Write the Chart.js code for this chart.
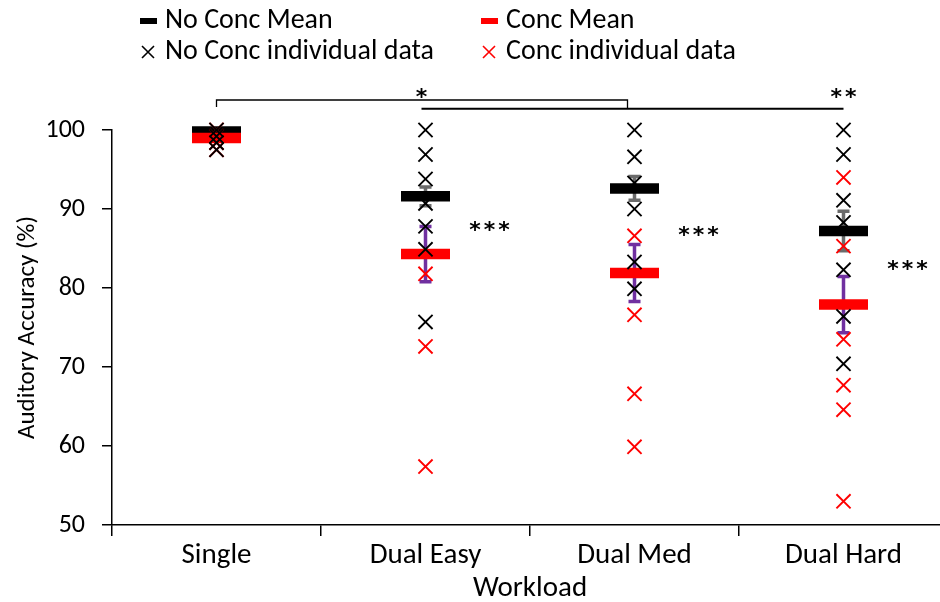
<!DOCTYPE html>
<html>
<head>
<meta charset="utf-8">
<script src="https://cdn.jsdelivr.net/npm/chart.js@4.4.1/dist/chart.umd.min.js"></script>
<style>
  html, body { margin: 0; padding: 0; background: #fff; overflow: hidden; }
  #wrap { width: 940px; height: 602px; overflow: hidden; }
</style>
</head>
<body>
<div id="wrap"><canvas id="accChart" width="948" height="602"></canvas></div>
<script>
// workload conditions
const categories = ['Single', 'Dual Easy', 'Dual Med', 'Dual Hard'];
const yTicks = [50, 60, 70, 80, 90, 100];

// group means and error (+/-)
const noConcMean = [99.8, 91.6, 92.6, 87.2];
const noConcErr = [0.2, 1.2, 1.5, 2.5];
const concMean = [99.0, 84.3, 81.9, 77.9];
const concErr = [0.4, 3.5, 3.6, 3.55];

// individual participants (visible ones)
const noConcSingle = [100, 99.2, 98.4, 97.5];
const noConcEasy = [100, 96.9, 93.8, 90.7, 87.8, 84.9, 75.7];
const noConcMed = [100, 96.6, 93.3, 90.0, 83.3, 79.9];
const noConcHard = [100, 96.9, 91.1, 88.3, 82.3, 76.4, 70.4];
const concSingle = [100, 99.2, 98.4, 97.5];
const concEasy = [81.8, 72.6, 57.4];
const concMed = [86.6, 76.6, 66.6, 59.9];
const concHard = [94.0, 85.3, 73.5, 67.7, 64.6, 53.0];

// significance labels
const withinStars = ['', '***', '***', '***'];
const withinStarY = [0, 87.7, 87.0, 82.7];

const FONT = 'Carlito, Lato, sans-serif';
const STAR_FONT = 'bold 22px "DejaVu Sans", sans-serif';

function toPoints(lists) {
  var out = [];
  for (var i = 0; i < lists.length; i++) {
    for (var j = 0; j < lists[i].length; j++) {
      out.push({ x: categories[i], y: lists[i][j] });
    }
  }
  return out;
}
function meanPoints(arr) {
  return arr.map(function (v, i) { return { x: categories[i], y: v }; });
}

var noConcPts = toPoints([noConcSingle, noConcEasy, noConcMed, noConcHard]);
var concPts = toPoints([concSingle, concEasy, concMed, concHard]);

function drawStars(ctx, str, cx, cy) {
  var pitch = 14.5;
  var start = cx - (str.length - 1) * pitch / 2;
  for (var k = 0; k < str.length; k++) {
    ctx.fillText(str[k], start + k * pitch, cy);
  }
}

// error bars underneath the mean markers
const errorBars = {
  id: 'errorBars',
  beforeDatasetsDraw: function (chart) {
    var ctx = chart.ctx, xs = chart.scales.x, ys = chart.scales.y;
    var groups = [
      { m: noConcMean, e: noConcErr, c: '#6b6b6b' },
      { m: concMean, e: concErr, c: '#7030a0' }
    ];
    ctx.save();
    groups.forEach(function (g) {
      ctx.strokeStyle = g.c;
      ctx.lineWidth = 3.5;
      for (var i = 0; i < g.m.length; i++) {
        var x = xs.getPixelForValue(i);
        var top = ys.getPixelForValue(g.m[i] + g.e[i]);
        var bot = ys.getPixelForValue(g.m[i] - g.e[i]);
        ctx.beginPath();
        ctx.moveTo(x, top); ctx.lineTo(x, bot);
        ctx.moveTo(x - 6, top); ctx.lineTo(x + 6, top);
        ctx.moveTo(x - 6, bot); ctx.lineTo(x + 6, bot);
        ctx.stroke();
      }
    });
    ctx.restore();
  }
};

// legend, brackets and stars
const extras = {
  id: 'extras',
  afterDraw: function (chart) {
    var ctx = chart.ctx, xs = chart.scales.x, ys = chart.scales.y;
    ctx.save();
    // legend
    ctx.font = '28px ' + FONT;
    ctx.textBaseline = 'middle';
    ctx.textAlign = 'left';
    var cols = [140, 481];
    var rows = [21, 52];
    ctx.fillStyle = '#000';
    ctx.fillRect(cols[0], rows[0] - 3, 17, 6);
    ctx.fillStyle = '#ff0000';
    ctx.fillRect(cols[1], rows[0] - 3, 17, 6);
    ctx.lineWidth = 1.6;
    [['#000', cols[0]], ['#ff0000', cols[1]]].forEach(function (c) {
      var cx = c[1] + 8, cy = rows[1];
      ctx.strokeStyle = c[0];
      ctx.beginPath();
      ctx.moveTo(cx - 6, cy - 6); ctx.lineTo(cx + 6, cy + 6);
      ctx.moveTo(cx + 6, cy - 6); ctx.lineTo(cx - 6, cy + 6);
      ctx.stroke();
    });
    ctx.fillStyle = '#000';
    ctx.fillText('No Conc Mean', cols[0] + 25, rows[0]);
    ctx.fillText('Conc Mean', cols[1] + 25, rows[0]);
    ctx.fillText('No Conc individual data', cols[0] + 25, rows[1]);
    ctx.fillText('Conc individual data', cols[1] + 25, rows[1]);

    // between-condition brackets
    var x0 = xs.getPixelForValue(0), x1 = xs.getPixelForValue(1);
    var x2 = xs.getPixelForValue(2), x3 = xs.getPixelForValue(3);
    var yA = ys.getPixelForValue(103.8), yB = ys.getPixelForValue(102.7);
    ctx.strokeStyle = '#000';
    ctx.lineWidth = 1.3;
    ctx.beginPath();
    ctx.moveTo(x0, yA + 7); ctx.lineTo(x0, yA); ctx.lineTo(x2 - 7, yA); ctx.lineTo(x2 - 7, yB);
    ctx.stroke();
    ctx.lineWidth = 2;
    ctx.beginPath();
    ctx.moveTo(x1 - 4, yB); ctx.lineTo(x3, yB);
    ctx.stroke();
    ctx.font = STAR_FONT;
    ctx.textAlign = 'center';
    drawStars(ctx, '*', x1 - 4, ys.getPixelForValue(104.5) + 4);
    drawStars(ctx, '**', x3, ys.getPixelForValue(104.5) + 4);

    // within-condition stars
    for (var i = 0; i < withinStars.length; i++) {
      if (!withinStars[i]) continue;
      drawStars(ctx, withinStars[i], xs.getPixelForValue(i) + 64, ys.getPixelForValue(withinStarY[i]) + 4);
    }
    ctx.restore();
  }
};

new Chart(document.getElementById('accChart'), {
  type: 'scatter',
  data: {
    labels: categories,
    datasets: [
      {
        label: 'No Conc individual data',
        data: noConcPts,
        pointStyle: 'crossRot',
        radius: 10,
        borderColor: '#000',
        borderWidth: 1.9,
        clip: false,
        order: 0
      },
      {
        label: 'Conc individual data',
        data: concPts,
        pointStyle: 'crossRot',
        radius: 10,
        borderColor: '#ff0000',
        borderWidth: 1.9,
        clip: false,
        order: 1
      },
      {
        label: 'Conc Mean',
        data: meanPoints(concMean),
        pointStyle: 'line',
        radius: 24.5,
        borderColor: '#ff0000',
        borderWidth: 10.5,
        clip: false,
        order: 2
      },
      {
        label: 'No Conc Mean',
        data: meanPoints(noConcMean),
        pointStyle: 'line',
        radius: 24.5,
        borderColor: '#000',
        borderWidth: 10.5,
        clip: false,
        order: 3
      }
    ]
  },
  options: {
    responsive: false,
    animation: false,
    events: [],
    layout: { autoPadding: false, padding: { top: 130, left: 0, right: 0, bottom: 0 } },
    plugins: {
      legend: { display: false },
      tooltip: { enabled: false }
    },
    scales: {
      x: {
        type: 'category',
        labels: categories,
        offset: true,
        grid: { offset: true, drawOnChartArea: false, drawTicks: true, tickLength: 11, color: '#000', lineWidth: 1.5 },
        border: { color: '#000', width: 1.5 },
        ticks: { color: '#000', font: { family: FONT, size: 29 }, padding: 2, maxRotation: 0 },
        title: { display: true, text: 'Workload', color: '#000', font: { family: FONT, size: 29 }, padding: { top: 0, bottom: -4 } },
        afterFit: function (s) { s.height = 77; s.paddingLeft = 0; s.paddingRight = 0; }
      },
      y: {
        min: 50,
        max: 100,
        afterBuildTicks: function (s) { s.ticks = yTicks.map(function (v) { return { value: v }; }); },
        grid: { drawOnChartArea: false, drawTicks: true, tickLength: 10, color: '#000', lineWidth: 1.5 },
        border: { color: '#000', width: 1.5 },
        ticks: { color: '#000', font: { family: FONT, size: 26 }, padding: 17 },
        title: { display: true, text: 'Auditory Accuracy (%)', color: '#000', font: { family: FONT, size: 25 }, padding: { top: 13, bottom: 0 } },
        afterFit: function (s) { s.width = 112; }
      }
    }
  },
  plugins: [errorBars, extras]
});
</script>
</body>
</html>
